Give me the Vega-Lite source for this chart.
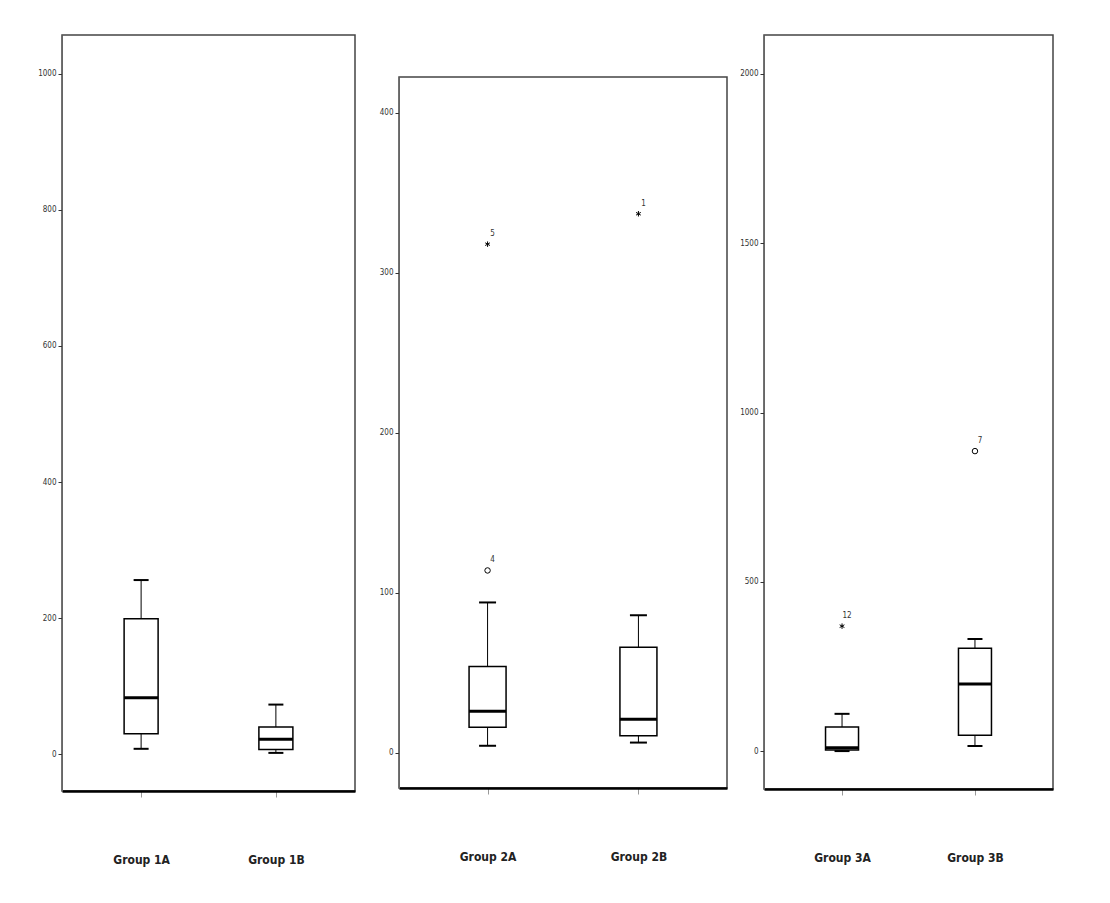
{
  "$schema": "https://vega.github.io/schema/vega-lite/v6.json",
  "background": "white",
  "padding": {"left": 36, "top": 34, "right": 5, "bottom": 5},
  "autosize": {"type": "pad"},
  "spacing": 10,
  "datasets": {
    "boxes1": [
      {"group": "Group 1A", "lower": 8, "q1": 30, "median": 83, "q3": 199, "upper": 256},
      {"group": "Group 1B", "lower": 2, "q1": 7, "median": 22, "q3": 40, "upper": 73}
    ],
    "boxes2": [
      {"group": "Group 2A", "lower": 4.4, "q1": 16, "median": 26, "q3": 54, "upper": 94},
      {"group": "Group 2B", "lower": 6.4, "q1": 10.6, "median": 21, "q3": 66, "upper": 86}
    ],
    "outliers2": [
      {"group": "Group 2A", "value": 318, "kind": "star", "label": "5"},
      {"group": "Group 2A", "value": 114, "kind": "circle", "label": "4"},
      {"group": "Group 2B", "value": 337, "kind": "star", "label": "1"}
    ],
    "boxes3": [
      {"group": "Group 3A", "lower": 0, "q1": 3, "median": 10, "q3": 71, "upper": 110},
      {"group": "Group 3B", "lower": 15, "q1": 47, "median": 198, "q3": 304, "upper": 331}
    ],
    "outliers3": [
      {"group": "Group 3A", "value": 369, "kind": "star", "label": "12"},
      {"group": "Group 3B", "value": 886, "kind": "circle", "label": "7"}
    ],
    "blank": [{"g": "x"}]
  },
  "hconcat": [
    {
      "width": 293,
      "height": 756,
      "data": {"name": "boxes1"},
      "encoding": {
        "x": {
          "field": "group", "type": "nominal",
          "scale": {"type": "point", "padding": 0.587, "domain": ["Group 1A", "Group 1B"]},
          "axis": {"title": null, "labelAngle": 0, "labelPadding": 57, "tickSize": 6, "tickColor": "#999", "domainColor": "black", "domainWidth": 2.5, "labelFont": "Liberation Sans Narrow, DejaVu Sans Condensed, sans-serif", "labelFontSize": 12, "labelFontWeight": "bold", "labelColor": "#222"}
        }
      },
      "layer": [
        {
          "mark": {"type": "rule", "color": "black", "strokeWidth": 1},
          "encoding": {
            "y": {
              "field": "lower", "type": "quantitative",
              "scale": {"domain": [-54, 1057], "nice": false, "zero": false},
              "axis": {"title": null, "values": [0, 200, 400, 600, 800, 1000], "format": "d", "tickSize": 4, "labelPadding": 2, "labelFontSize": 8, "labelFont": "Liberation Sans Narrow, DejaVu Sans Condensed, sans-serif", "labelColor": "#333", "domainColor": "#666", "tickColor": "#333", "minExtent": 22, "maxExtent": 22}
            },
            "y2": {"field": "upper"}
          }
        },
        {
          "mark": {"type": "bar", "size": 34, "fill": "white", "stroke": "black", "strokeWidth": 1.5},
          "encoding": {"y": {"field": "q1", "type": "quantitative"}, "y2": {"field": "q3"}}
        },
        {
          "mark": {"type": "tick", "size": 34, "thickness": 3, "color": "black", "opacity": 1},
          "encoding": {"y": {"field": "median", "type": "quantitative"}}
        },
        {
          "mark": {"type": "tick", "size": 15, "thickness": 2, "color": "black", "opacity": 1},
          "encoding": {"y": {"field": "upper", "type": "quantitative"}}
        },
        {
          "mark": {"type": "tick", "size": 15, "thickness": 2, "color": "black", "opacity": 1},
          "encoding": {"y": {"field": "lower", "type": "quantitative"}}
        }
      ]
    },
    {
      "spacing": 0,
      "vconcat": [
        {
          "width": 328,
          "height": 41,
          "data": {"name": "blank"},
          "mark": {"type": "text", "text": ""},
          "view": {"stroke": null, "fill": "white"}
        },
        {
          "width": 328,
          "height": 711,
          "encoding": {
            "x": {
              "field": "group", "type": "nominal",
              "scale": {"type": "point", "padding": 0.587, "domain": ["Group 2A", "Group 2B"]},
              "axis": {"title": null, "labelAngle": 0, "labelPadding": 57, "tickSize": 6, "tickColor": "#999", "domainColor": "black", "domainWidth": 2.5, "labelFont": "Liberation Sans Narrow, DejaVu Sans Condensed, sans-serif", "labelFontSize": 12, "labelFontWeight": "bold", "labelColor": "#222"}
            }
          },
          "layer": [
            {
              "data": {"name": "boxes2"},
              "mark": {"type": "rule", "color": "black", "strokeWidth": 1},
              "encoding": {
                "y": {
                  "field": "lower", "type": "quantitative",
                  "scale": {"domain": [-22, 422.5], "nice": false, "zero": false},
                  "axis": {"title": null, "values": [0, 100, 200, 300, 400], "format": "d", "tickSize": 4, "labelPadding": 2, "labelFontSize": 8, "labelFont": "Liberation Sans Narrow, DejaVu Sans Condensed, sans-serif", "labelColor": "#333", "domainColor": "#666", "tickColor": "#333", "minExtent": 32, "maxExtent": 32}
                },
                "y2": {"field": "upper"}
              }
            },
            {
              "data": {"name": "boxes2"},
              "mark": {"type": "bar", "size": 37, "fill": "white", "stroke": "black", "strokeWidth": 1.5},
              "encoding": {"y": {"field": "q1", "type": "quantitative"}, "y2": {"field": "q3"}}
            },
            {
              "data": {"name": "boxes2"},
              "mark": {"type": "tick", "size": 37, "thickness": 3, "color": "black", "opacity": 1},
              "encoding": {"y": {"field": "median", "type": "quantitative"}}
            },
            {
              "data": {"name": "boxes2"},
              "mark": {"type": "tick", "size": 17, "thickness": 2, "color": "black", "opacity": 1},
              "encoding": {"y": {"field": "upper", "type": "quantitative"}}
            },
            {
              "data": {"name": "boxes2"},
              "mark": {"type": "tick", "size": 17, "thickness": 2, "color": "black", "opacity": 1},
              "encoding": {"y": {"field": "lower", "type": "quantitative"}}
            },
            {
              "data": {"name": "outliers2"},
              "mark": {"type": "point", "filled": false, "color": "black", "strokeWidth": 1, "size": 30, "opacity": 1},
              "encoding": {
                "y": {"field": "value", "type": "quantitative"},
                "shape": {"field": "kind", "type": "nominal", "scale": {"domain": ["star", "circle"], "range": ["M0,-1L0,1M-0.87,-0.5L0.87,0.5M-0.87,0.5L0.87,-0.5", "circle"]}, "legend": null}
              }
            },
            {
              "data": {"name": "outliers2"},
              "mark": {"type": "text", "dx": 5, "dy": -10, "fontSize": 8, "color": "#333", "font": "Liberation Sans Narrow, DejaVu Sans Condensed, sans-serif"},
              "encoding": {"y": {"field": "value", "type": "quantitative"}, "text": {"field": "label"}}
            }
          ]
        }
      ]
    },
    {
      "width": 289,
      "height": 754,
      "encoding": {
        "x": {
          "field": "group", "type": "nominal",
          "scale": {"type": "point", "padding": 0.587, "domain": ["Group 3A", "Group 3B"]},
          "axis": {"title": null, "labelAngle": 0, "labelPadding": 57, "tickSize": 6, "tickColor": "#999", "domainColor": "black", "domainWidth": 2.5, "labelFont": "Liberation Sans Narrow, DejaVu Sans Condensed, sans-serif", "labelFontSize": 12, "labelFontWeight": "bold", "labelColor": "#222"}
        }
      },
      "layer": [
        {
          "data": {"name": "boxes3"},
          "mark": {"type": "rule", "color": "black", "strokeWidth": 1},
          "encoding": {
            "y": {
              "field": "lower", "type": "quantitative",
              "scale": {"domain": [-112, 2115], "nice": false, "zero": false},
              "axis": {"title": null, "values": [0, 500, 1000, 1500, 2000], "format": "d", "tickSize": 4, "labelPadding": 2, "labelFontSize": 8, "labelFont": "Liberation Sans Narrow, DejaVu Sans Condensed, sans-serif", "labelColor": "#333", "domainColor": "#666", "tickColor": "#333", "minExtent": 25, "maxExtent": 25}
            },
            "y2": {"field": "upper"}
          }
        },
        {
          "data": {"name": "boxes3"},
          "mark": {"type": "bar", "size": 33, "fill": "white", "stroke": "black", "strokeWidth": 1.5},
          "encoding": {"y": {"field": "q1", "type": "quantitative"}, "y2": {"field": "q3"}}
        },
        {
          "data": {"name": "boxes3"},
          "mark": {"type": "tick", "size": 33, "thickness": 3, "color": "black", "opacity": 1},
          "encoding": {"y": {"field": "median", "type": "quantitative"}}
        },
        {
          "data": {"name": "boxes3"},
          "mark": {"type": "tick", "size": 15, "thickness": 2, "color": "black", "opacity": 1},
          "encoding": {"y": {"field": "upper", "type": "quantitative"}}
        },
        {
          "data": {"name": "boxes3"},
          "mark": {"type": "tick", "size": 15, "thickness": 2, "color": "black", "opacity": 1},
          "encoding": {"y": {"field": "lower", "type": "quantitative"}}
        },
        {
          "data": {"name": "outliers3"},
          "mark": {"type": "point", "filled": false, "color": "black", "strokeWidth": 1, "size": 30, "opacity": 1},
          "encoding": {
            "y": {"field": "value", "type": "quantitative"},
            "shape": {"field": "kind", "type": "nominal", "scale": {"domain": ["star", "circle"], "range": ["M0,-1L0,1M-0.87,-0.5L0.87,0.5M-0.87,0.5L0.87,-0.5", "circle"]}, "legend": null}
          }
        },
        {
          "data": {"name": "outliers3"},
          "mark": {"type": "text", "dx": 5, "dy": -10, "fontSize": 8, "color": "#333", "font": "Liberation Sans Narrow, DejaVu Sans Condensed, sans-serif"},
          "encoding": {"y": {"field": "value", "type": "quantitative"}, "text": {"field": "label"}}
        }
      ]
    }
  ],
  "config": {
    "view": {"stroke": "#444", "strokeWidth": 1.5},
    "axis": {"grid": false}
  }
}
